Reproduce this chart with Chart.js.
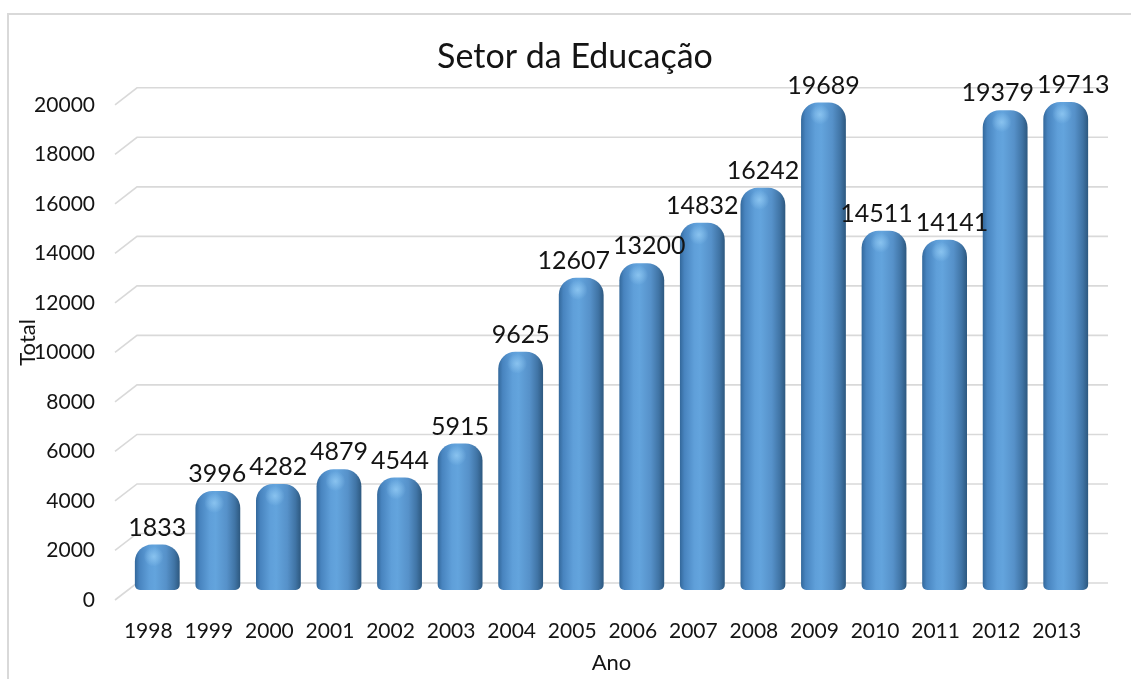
<!DOCTYPE html>
<html>
<head>
<meta charset="utf-8">
<script src="https://cdn.jsdelivr.net/npm/chart.js@4/dist/chart.umd.min.js"></script>
<style>
  html, body { margin: 0; padding: 0; background: #ffffff; }
  #wrap { width: 1131px; height: 679px; }
</style>
</head>
<body>
<div id="wrap"><canvas id="c" width="1131" height="679"></canvas></div>
<script>
const categories = ['1998','1999','2000','2001','2002','2003','2004','2005','2006','2007','2008','2009','2010','2011','2012','2013'];
const totals = [1833, 3996, 4282, 4879, 4544, 5915, 9625, 12607, 13200, 14832, 16242, 19689, 14511, 14141, 19379, 19713];
const yTicks = [0, 2000, 4000, 6000, 8000, 10000, 12000, 14000, 16000, 18000, 20000];
const chartTitle = 'Setor da Educação';
const xTitle = 'Ano';
const yTitle = 'Total';

const TEXT = '#141414';
const FONT = 'Lato';
const BAR_FRACTION = 0.74;

function barGradient(ctx) {
  const chart = ctx.chart;
  const xs = chart.scales && chart.scales.x;
  if (!chart.chartArea || !xs || ctx.dataIndex === undefined) return '#5B9BD5';
  const cx = xs.getPixelForValue(ctx.dataIndex);
  const w = (xs.width / categories.length) * BAR_FRACTION;
  const g = chart.ctx.createLinearGradient(cx - w / 2, 0, cx + w / 2, 0);
  g.addColorStop(0.00, '#33689b');
  g.addColorStop(0.10, '#4884bf');
  g.addColorStop(0.32, '#5f9fd9');
  g.addColorStop(0.45, '#63a4dd');
  g.addColorStop(0.70, '#5691c9');
  g.addColorStop(0.88, '#4074a5');
  g.addColorStop(1.00, '#2d587f');
  return g;
}

const framePlugin = {
  id: 'frame',
  beforeDraw(chart) {
    const c = chart.ctx;
    c.save();
    c.fillStyle = '#ffffff';
    c.fillRect(0, 0, chart.width, chart.height);
    c.strokeStyle = '#d9d9d9';
    c.lineWidth = 2;
    c.strokeRect(8, 14, chart.width + 20, chart.height + 20);
    c.restore();
  }
};

const backGridPlugin = {
  id: 'backGrid',
  beforeDatasetsDraw(chart) {
    const ys = chart.scales.y;
    const area = chart.chartArea;
    const c = chart.ctx;
    c.save();
    c.strokeStyle = '#d9d9d9';
    c.lineWidth = 1.6;
    ys.ticks.forEach(t => {
      const yFront = ys.getPixelForValue(t.value) + 10;
      const yBack = yFront - 17;
      c.beginPath();
      c.moveTo(area.left - 12, yFront);
      c.lineTo(area.left + 10, yBack);
      c.lineTo(area.right + 12, yBack);
      c.stroke();
    });
    c.restore();
  }
};

const highlightPlugin = {
  id: 'highlight',
  afterDatasetsDraw(chart) {
    const meta = chart.getDatasetMeta(0);
    const c = chart.ctx;
    c.save();
    meta.data.forEach(el => {
      const hx = el.x - el.width * 0.08;
      const hy = el.y + 12;
      const g = c.createRadialGradient(hx, hy, 0, hx, hy, 10);
      g.addColorStop(0, 'rgba(150,205,245,0.75)');
      g.addColorStop(1, 'rgba(150,205,245,0)');
      c.fillStyle = g;
      c.beginPath();
      c.arc(hx, hy, 10, 0, Math.PI * 2);
      c.fill();
    });
    c.restore();
  }
};

const valueLabelPlugin = {
  id: 'valueLabels',
  afterDatasetsDraw(chart) {
    const meta = chart.getDatasetMeta(0);
    const data = chart.data.datasets[0].data;
    const c = chart.ctx;
    c.save();
    c.font = '25px ' + FONT;
    c.fillStyle = TEXT;
    c.textAlign = 'center';
    c.textBaseline = 'middle';
    const items = meta.data.map((el, i) => {
      const text = String(data[i]);
      return { text, x: el.x, y: el.y - 17, w: c.measureText(text).width };
    });
    // simple overlap avoidance between neighbouring labels
    for (let pass = 0; pass < 3; pass++) {
      for (let i = 1; i < items.length; i++) {
        const a = items[i - 1], b = items[i];
        if (Math.abs(a.y - b.y) < 20) {
          const need = (a.w + b.w) / 2 + 3;
          const gap = b.x - a.x;
          if (gap < need) {
            const shift = (need - gap) / 2;
            a.x -= shift;
            b.x += shift;
          }
        }
      }
    }
    items.forEach(it => c.fillText(it.text, it.x, it.y));
    c.restore();
  }
};

new Chart(document.getElementById('c'), {
  type: 'bar',
  data: {
    labels: categories,
    datasets: [{
      label: yTitle,
      data: totals,
      yAxisID: 'y',
      backgroundColor: barGradient,
      borderWidth: 0,
      borderSkipped: false,
      borderRadius: { topLeft: 17, topRight: 17, bottomLeft: 5, bottomRight: 5 },
      categoryPercentage: 1,
      barPercentage: BAR_FRACTION
    }]
  },
  options: {
    responsive: false,
    animation: false,
    devicePixelRatio: 1,
    layout: { padding: { top: 0, left: 19, right: 0, bottom: 0 } },
    plugins: {
      legend: { display: false },
      tooltip: { enabled: false },
      title: {
        display: true,
        text: chartTitle,
        color: TEXT,
        font: { family: FONT, size: 34, weight: 'normal' },
        padding: { top: 37, bottom: 17 }
      }
    },
    scales: {
      x: {
        grid: { display: false, drawTicks: false },
        border: { display: false },
        ticks: {
          color: TEXT,
          font: { family: FONT, size: 21 },
          padding: 29,
          labelOffset: -9,
          maxRotation: 0,
          autoSkip: false
        },
        title: {
          display: true,
          text: xTitle,
          color: TEXT,
          font: { family: FONT, size: 22 },
          padding: { top: 0, bottom: 3 }
        },
        afterFit(scale) { scale.height = 89; }
      },
      y: {
        position: 'left',
        min: yTicks[0],
        max: yTicks[yTicks.length - 1],
        afterBuildTicks(scale) { scale.ticks = yTicks.map(v => ({ value: v })); },
        grid: { display: false, drawTicks: false },
        border: { display: false },
        ticks: {
          color: TEXT,
          font: { family: FONT, size: 21 },
          padding: 32,
          labelOffset: 10,
          callback: (v) => String(v)
        },
        title: {
          display: true,
          text: yTitle,
          color: TEXT,
          font: { family: FONT, size: 22 },
          padding: { top: -4, bottom: 0 }
        },
        afterFit(scale) { scale.width = 108; }
      },
      yRight: {
        position: 'right',
        display: true,
        min: yTicks[0],
        max: yTicks[yTicks.length - 1],
        grid: { display: false, drawTicks: false },
        border: { display: false },
        ticks: { display: false },
        afterFit(scale) { scale.width = 35; }
      }
    }
  },
  plugins: [framePlugin, backGridPlugin, highlightPlugin, valueLabelPlugin]
});
</script>
</body>
</html>
